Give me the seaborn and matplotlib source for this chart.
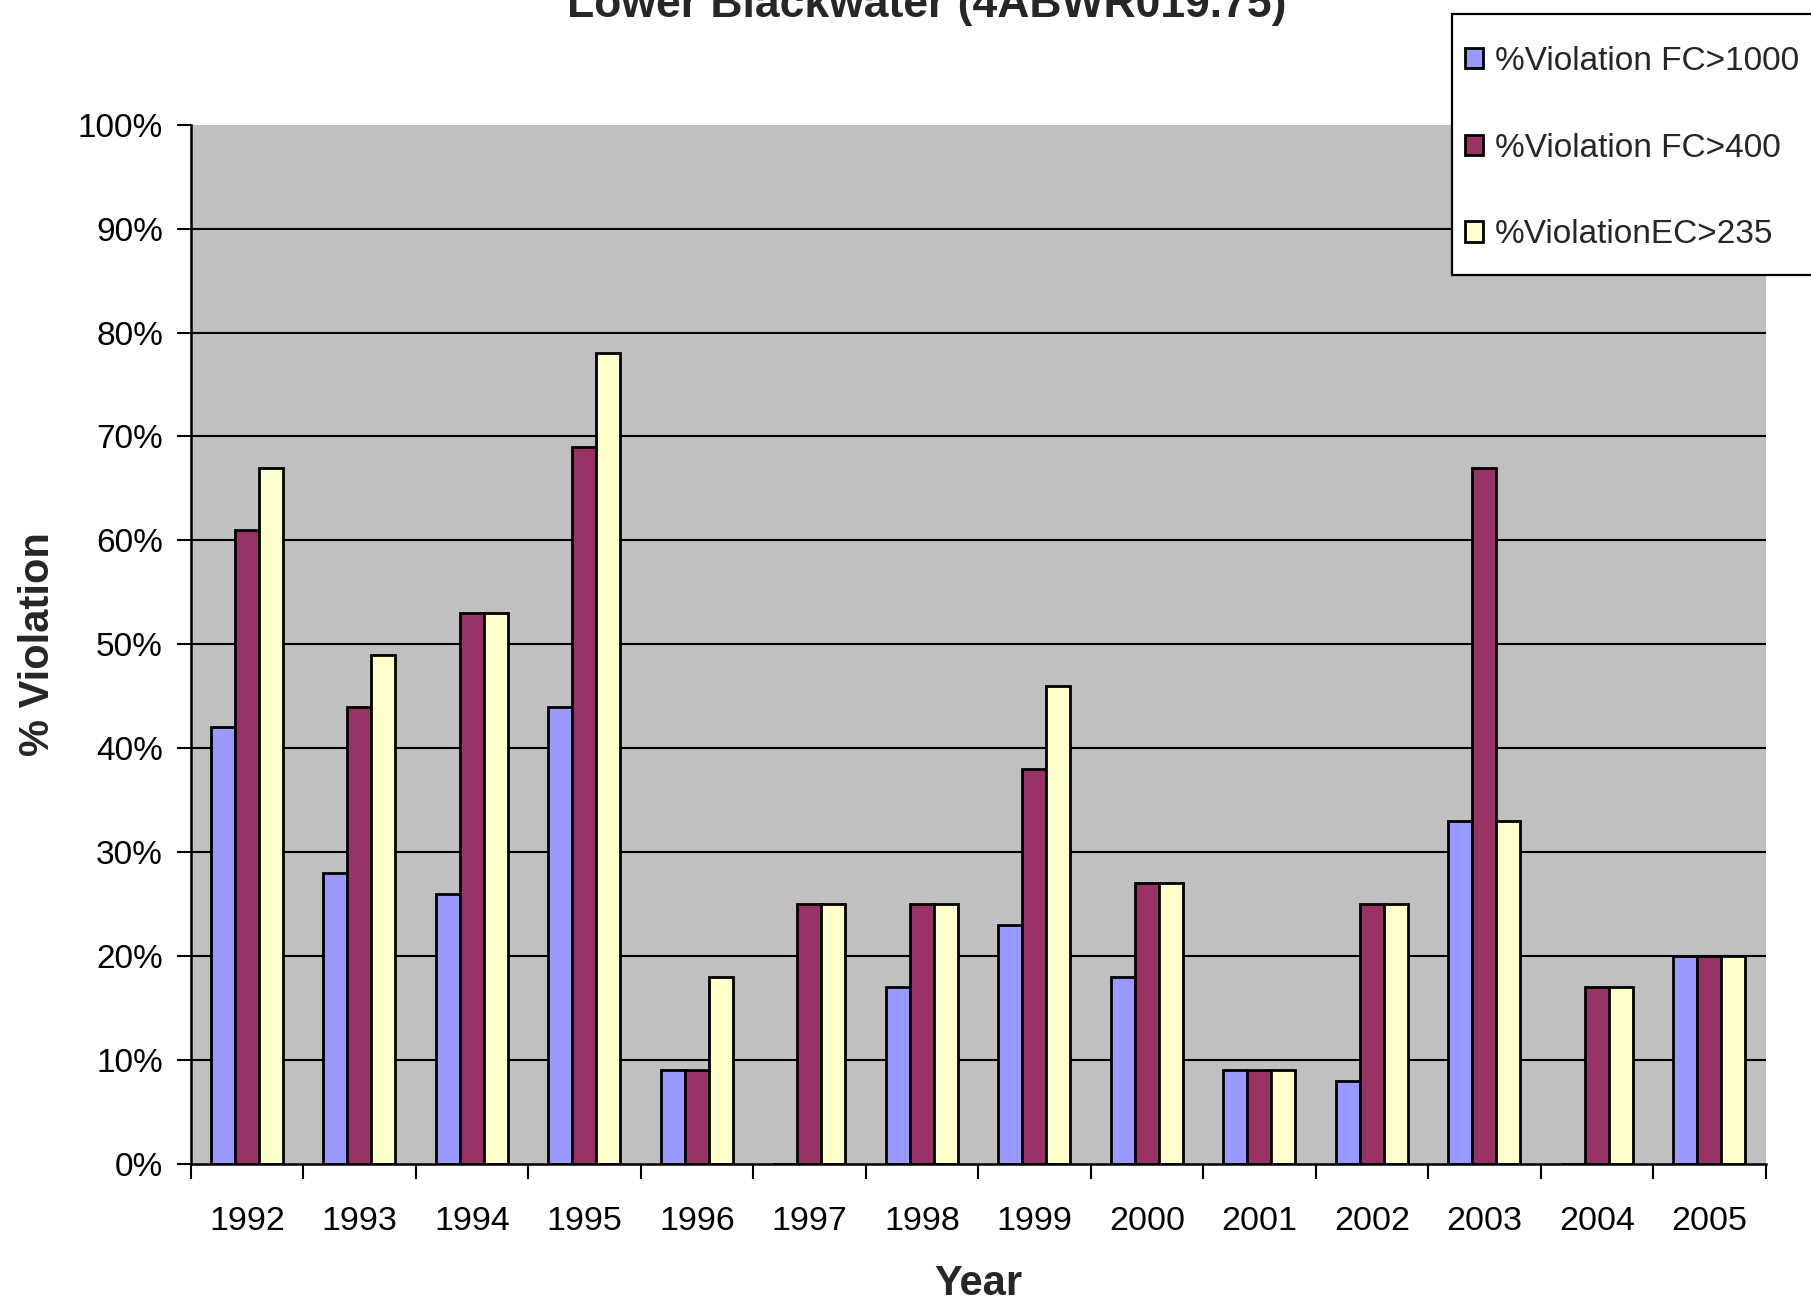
import numpy as np
import pandas as pd
import matplotlib
matplotlib.use("Agg")
import matplotlib.pyplot as plt
import seaborn as sns
from matplotlib.patches import Rectangle
from matplotlib.ticker import FixedLocator, PercentFormatter

years = ["1992", "1993", "1994", "1995", "1996", "1997", "1998", "1999",
         "2000", "2001", "2002", "2003", "2004", "2005"]
fc1000 = [42, 28, 26, 44, 9, 0, 17, 23, 18, 9, 8, 33, 0, 20]
fc400 = [61, 44, 53, 69, 9, 25, 25, 38, 27, 9, 25, 67, 17, 20]
ec235 = [67, 49, 53, 78, 18, 25, 25, 46, 27, 9, 25, 33, 17, 20]
series_names = ["%Violation FC>1000", "%Violation FC>400", "%ViolationEC>235"]
colors = ["#9999FF", "#993366", "#FFFFCC"]

title = "Lower Blackwater (4ABWR019.75)"

rows = []
for name, vals in zip(series_names, [fc1000, fc400, ec235]):
    for y, v in zip(years, vals):
        rows.append({"Year": y, "series": name, "value": v})
df = pd.DataFrame(rows)

sns.set_style("white")
plt.rcParams["font.family"] = ["Liberation Sans", "DejaVu Sans"]

W, H = 1811, 1304
fig = plt.figure(figsize=(W / 100, H / 100), dpi=100)
ax = fig.add_axes([0.1053, 0.1074, 0.975 - 0.1053, 0.9044 - 0.1074])
ax.set_facecolor("#C0C0C0")

sns.barplot(data=df, x="Year", y="value", hue="series", order=years,
            hue_order=series_names, palette=colors, width=0.64,
            edgecolor="black", linewidth=2.0, saturation=1, ax=ax, errorbar=None)

handles, labels = ax.get_legend_handles_labels()
if ax.get_legend() is not None:
    ax.get_legend().remove()

ax.set_xlim(-0.5, len(years) - 0.5)
ax.set_ylim(0, 100)
ax.set_yticks(np.arange(0, 101, 10))
ax.yaxis.set_major_formatter(PercentFormatter(decimals=0))
ax.set_axisbelow(True)
for yv in range(10, 100, 10):
    ax.axhline(yv, color="black", linewidth=1.5, zorder=0.5)

ax.xaxis.set_minor_locator(FixedLocator(np.arange(-0.5, len(years), 1.0)))
ax.tick_params(axis="x", which="major", bottom=True, length=0, labelsize=24.5,
               pad=30, colors="black")
ax.tick_params(axis="x", which="minor", bottom=True, length=11, width=1.5,
               direction="out", color="black")
ax.tick_params(axis="y", which="major", left=True, length=10, width=1.5,
               direction="out", labelsize=24, pad=10, colors="black")

for s in ["top", "right"]:
    ax.spines[s].set_visible(False)
for s in ["left", "bottom"]:
    ax.spines[s].set_color("black")
    ax.spines[s].set_linewidth(1.8)

ax.set_xlabel("Year", fontsize=30, fontweight="bold", labelpad=20)
ax.set_ylabel("% Violation", fontsize=30, fontweight="bold", labelpad=14)

fig.text(0.512, 1 - 17 / H, title, ha="center", va="baseline",
         fontsize=32, fontweight="bold")

# legend frame (extends past the right edge as in the reference)
frame = Rectangle((1452 / W, 1 - 275 / H), 400 / W, (275 - 14) / H,
                  transform=fig.transFigure, facecolor="white",
                  edgecolor="black", linewidth=1.6, zorder=5)
fig.add_artist(frame)

leg = fig.legend(handles, labels, loc="upper left",
                 bbox_to_anchor=(1465 / W, 1 - 46 / H),
                 fontsize=24, frameon=False,
                 handlelength=0.55, handleheight=0.55, handletextpad=0.35,
                 labelspacing=1.67, borderpad=0, borderaxespad=0)
leg.set_zorder(6)

fig.savefig("out.png", dpi=100)
